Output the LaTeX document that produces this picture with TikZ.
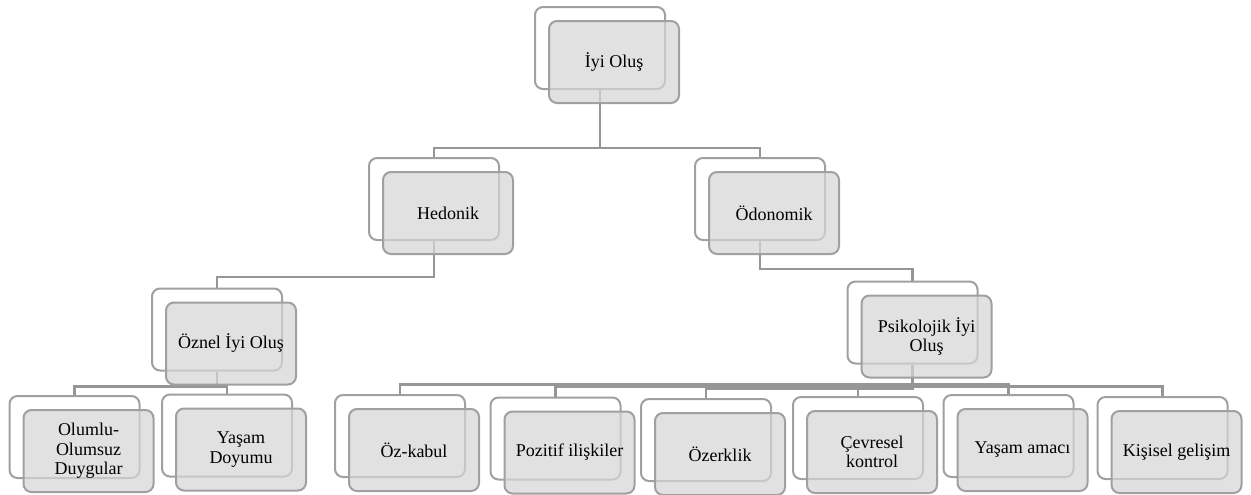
\documentclass[tikz,border=0pt]{standalone}
\usepackage{fontspec}
\setmainfont{Liberation Serif}
\usepackage{tikz}
\usetikzlibrary{positioning, backgrounds}
\definecolor{boxline}{RGB}{160,160,160}
\definecolor{boxfill}{RGB}{214,214,214}
\definecolor{connline}{RGB}{150,150,150}
\tikzset{
  backbox/.style={rectangle, draw=boxline, fill=white,
    minimum width=97.5pt, minimum height=61.5pt,
    rounded corners=6pt, line width=1.5pt},
  frontbox/.style={rectangle, draw=boxline, fill=boxfill, fill opacity=0.72,
    text opacity=1, minimum width=97.5pt, minimum height=61.5pt,
    align=center, font=\fontsize{13.5}{14.5}\selectfont,
    rounded corners=6pt, line width=1.5pt, inner sep=2pt},
  conn/.style={line width=1.6pt, color=connline}
}

\begin{document}
\begin{tikzpicture}[x=0.75pt, y=-0.75pt]
  \useasboundingbox (0,0) rectangle (1251,494);

  % Back frames
  \node[backbox] (iyiB) at (600,48)    {};
  \node[backbox] (hedB) at (434,199)   {};
  \node[backbox] (odoB) at (760,199)   {};
  \node[backbox] (oznB) at (217,329.5) {};
  \node[backbox] (psiB) at (912.5,322.5) {};
  \node[backbox] (oluB) at (74.5,437)  {};
  \node[backbox] (ydoB) at (227,435.5) {};
  \node[backbox] (ozkB) at (400,436)   {};
  \node[backbox] (pozB) at (555.5,438.5) {};
  \node[backbox] (ozeB) at (706,440)   {};
  \node[backbox] (cevB) at (858,438)   {};
  \node[backbox] (amaB) at (1008.5,436) {};
  \node[backbox] (kisB) at (1162.5,438) {};

  % Front boxes
  \node[frontbox] (iyi) at ([shift={(14,14)}]iyiB) {İyi Oluş};
  \node[frontbox] (hed) at ([shift={(14,14)}]hedB) {Hedonik};
  \node[frontbox] (odo) at ([shift={(14,14)}]odoB) {Ödonomik};
  \node[frontbox] (ozn) at ([shift={(14,14)}]oznB) {Öznel İyi Oluş};
  \node[frontbox] (psi) at ([shift={(14,14)}]psiB) {Psikolojik İyi\\Oluş};
  \node[frontbox] (olu) at ([shift={(14,14)}]oluB) {Olumlu-\\Olumsuz\\Duygular};
  \node[frontbox] (ydo) at ([shift={(14,14)}]ydoB) {Yaşam\\Doyumu};
  \node[frontbox] (ozk) at ([shift={(14,14)}]ozkB) {Öz-kabul};
  \node[frontbox] (poz) at ([shift={(14,14)}]pozB) {Pozitif ilişkiler};
  \node[frontbox] (oze) at ([shift={(14,14)}]ozeB) {Özerklik};
  \node[frontbox] (cev) at ([shift={(14,14)}]cevB) {Çevresel\\kontrol};
  \node[frontbox] (ama) at ([shift={(14,14)}]amaB) {Yaşam amacı};
  \node[frontbox] (kis) at ([shift={(14,14)}]kisB) {Kişisel gelişim};

  % Connectors
  \begin{pgfonlayer}{background}
    \draw[conn] (iyiB.south) -- ++(0,58) -| (hedB.north);
    \draw[conn] (iyiB.south) -- ++(0,58) -| (odoB.north);
    \draw[conn] (hedB.south) -- ++(0,36) -| (oznB.north);
    \draw[conn] (odoB.south) -- ++(0,28) -| (psiB.north);
    \draw[conn] (oznB.south) -- ++(0,15) -| (oluB.north);
    \draw[conn] (oznB.south) -- ++(0,15) -| (ydoB.north);
    \foreach \c/\d in {ozkB/20, pozB/22, ozeB/24, cevB/22, amaB/20, kisB/22}
      \draw[conn] (psiB.south) -- ++(0,\d) -| (\c.north);
  \end{pgfonlayer}
\end{tikzpicture}
\end{document}
